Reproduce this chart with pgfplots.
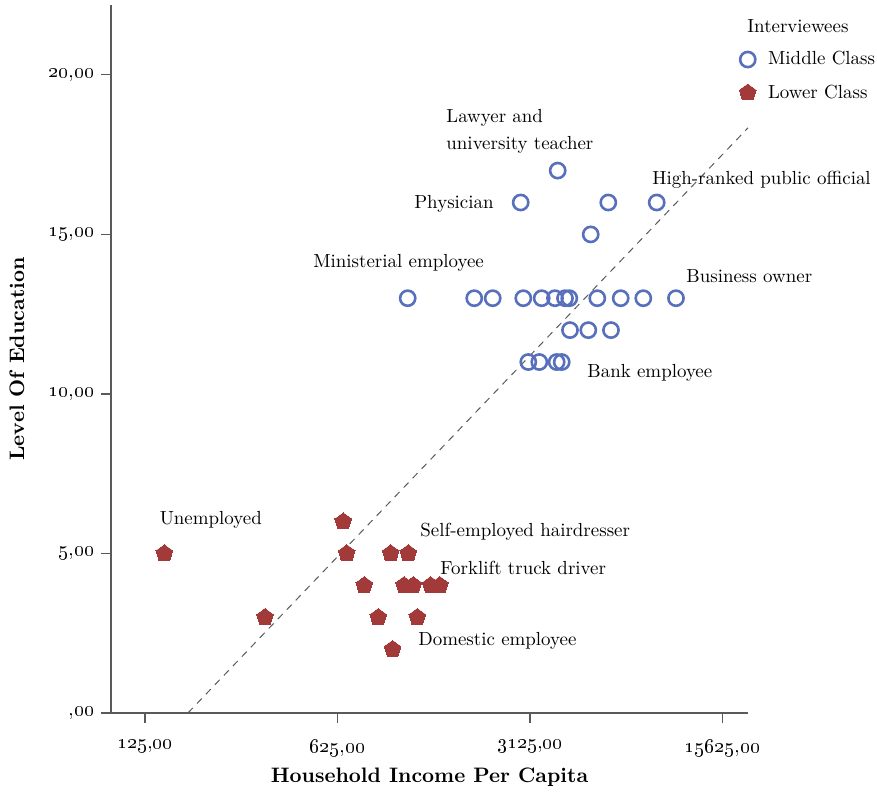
\documentclass[border=0pt]{standalone}
\usepackage{pgfplots}
\pgfplotsset{compat=1.18}
\usetikzlibrary{plotmarks}
\definecolor{midc}{RGB}{88,112,188}
\definecolor{lowc}{RGB}{163,58,58}
\definecolor{axc}{RGB}{90,90,90}
\begin{document}
\begin{tikzpicture}
\begin{axis}[
  scale only axis, width=318.5bp, height=354bp,
  xmode=log, xmin=94.1, xmax=19340, ymin=0, ymax=22.19,
  axis x line=bottom, axis y line=left,
  axis line style={-, axc, line width=0.6pt},
  tick style={axc, line width=0.6pt}, tick align=outside,
  major tick length=5bp,
  xtick={125,625,3125,15625},
  xticklabels={{\oldstylenums{125,00}},{\oldstylenums{625,00}},{\oldstylenums{3125,00}},{\oldstylenums{15625,00}}},
  minor xtick={},
  ytick={0,5,10,15,20},
  yticklabels={{\oldstylenums{,00}},{\oldstylenums{5,00}},{\oldstylenums{10,00}},{\oldstylenums{15,00}},{\oldstylenums{20,00}}},
  ticklabel style={font=\fontsize{10}{11}\selectfont},
  xticklabel style={yshift=-5bp},
  xlabel={Household Income Per Capita},
  ylabel={Level Of Education},
  label style={font=\fontsize{10.5}{12}\selectfont\bfseries},
  xlabel style={at={(axis description cs:0.5,-0.0904)}, anchor=center},
  ylabel style={at={(axis description cs:-0.1476,0.5)}, anchor=center},
  clip=false,
  legend style={draw=none, fill=none, at={(axis description cs:1,1)}, anchor=north west,
    xshift=-7.5bp, yshift=-19bp, row sep=4.5bp, font=\fontsize{9.5}{11}\selectfont,
    /tikz/every odd column/.append style={column sep=4bp}},
  legend cell align=left,
]
\addplot[forget plot, axc, line width=0.5pt, dash pattern=on 3.5bp off 3bp] coordinates {(179,0) (19340,18.34)};
\addplot[only marks, mark=o, mark size=3.8bp, mark options={draw=midc, line width=1.3bp}] table {
x y
3940 17
2891 16
6014 16
9015 16
5191 15
1124 13
1961 13
2288 13
2955 13
3446 13
3851 13
4188 13
4341 13
5485 13
6671 13
8058 13
10591 13
4366 12
5088 12
6150 12
3081 11
3378 11
3906 11
4074 11
};
\addlegendentry{Middle Class}
\addplot[only marks, mark=pentagon*, mark size=4.4bp, mark options={draw=lowc, fill=lowc, line width=0pt}] table {
x y
147 5
656 6
675 5
975 5
1130 5
782 4
1090 4
1178 4
1362 4
1472 4
341 3
879 3
1218 3
991 2
};
\addlegendentry{Lower Class}
\begin{scope}[font=\fontsize{9.5}{11}\selectfont, every node/.style={inner sep=0pt}]
\node[anchor=west] at (axis cs:19180,21.54) {Interviewees};
\node[anchor=west] at (axis cs:1549,18.65) {Lawyer and};
\node[anchor=west] at (axis cs:1549,17.81) {university teacher};
\node[anchor=east] at (axis cs:2313,15.96) {Physician};
\node[anchor=west] at (axis cs:8670,16.71) {High-ranked public official};
\node[anchor=west] at (axis cs:509,14.11) {Ministerial employee};
\node[anchor=west] at (axis cs:11516,13.70) {Business owner};
\node[anchor=west] at (axis cs:5033,10.66) {Bank employee};
\node[anchor=west] at (axis cs:141,6.05) {Unemployed};
\node[anchor=west] at (axis cs:1246,5.67) {Self-employed hairdresser};
\node[anchor=west] at (axis cs:1472,4.55) {Forklift truck driver};
\node[anchor=west] at (axis cs:1225,2.26) {Domestic employee};
\end{scope}
\end{axis}
\pgfresetboundingbox
\path (current axis.south west) ++(-55.5bp,-40bp) rectangle ([xshift=64.5bp,yshift=2.5bp]current axis.north east);
\end{tikzpicture}
\end{document}
